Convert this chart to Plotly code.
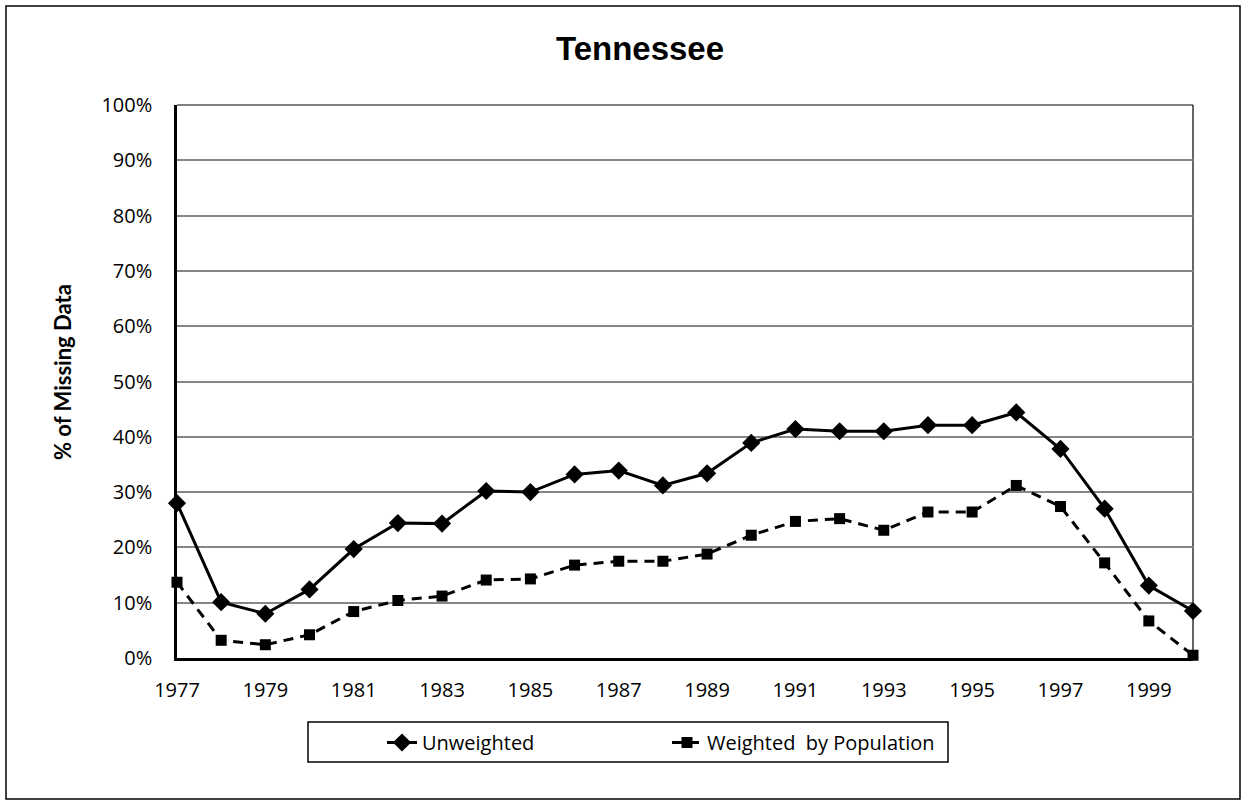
import plotly.graph_objects as go

years = list(range(1977, 2001))
unweighted = [28.0, 10.1, 8.0, 12.4, 19.7, 24.4, 24.3, 30.2, 30.0, 33.2, 33.9, 31.2,
              33.4, 38.9, 41.4, 41.0, 41.0, 42.1, 42.1, 44.4, 37.8, 27.0, 13.1, 8.5]
weighted = [13.7, 3.2, 2.4, 4.2, 8.4, 10.4, 11.2, 14.1, 14.3, 16.8, 17.5, 17.5,
            18.8, 22.2, 24.7, 25.2, 23.1, 26.4, 26.4, 31.2, 27.4, 17.2, 6.7, 0.5]
y_ticks = list(range(0, 101, 10))
y_tick_labels = [f"{v}%" for v in y_ticks]
x_ticks = list(range(1977, 2000, 2))

tick_font = dict(family="Open Sans, Lato, sans-serif", size=20, color="#000000")

fig = go.Figure()
fig.add_trace(go.Scatter(
    x=years, y=unweighted, name="Unweighted", mode="lines+markers",
    line=dict(color="#000000", width=3),
    marker=dict(symbol="diamond", size=14, color="#000000"),
    cliponaxis=False,
))
fig.add_trace(go.Scatter(
    x=years, y=weighted, name="Weighted  by Population", mode="lines+markers",
    line=dict(color="#000000", width=3, dash="10px,7px"),
    marker=dict(symbol="square", size=11, color="#000000"),
    cliponaxis=False,
))

L, R, T, B = 177, 54, 105, 146
W, H = 1247, 804
pw, ph = W - L - R, H - T - B

def px(xp):
    return (xp - L) / pw

def py(yp):
    return (H - B - yp) / ph

fig.update_layout(
    width=W, height=H,
    margin=dict(l=L, r=R, t=T, b=B),
    paper_bgcolor="#ffffff", plot_bgcolor="#ffffff",
    showlegend=True,
    legend=dict(
        orientation="h", x=px(382), xanchor="left", y=py(723), yanchor="top",
        borderwidth=0, bgcolor="rgba(0,0,0,0)",
        font=dict(family="Open Sans, Lato, sans-serif", size=20, color="#000000"),
        entrywidth=240, entrywidthmode="pixels", tracegroupgap=0,
    ),
    title=dict(
        text="<b>Tennessee</b>", x=640 / W, xanchor="center", xref="container",
        y=1 - 48 / H, yanchor="middle", yref="container",
        font=dict(family="Liberation Sans, Arial, sans-serif", size=33, color="#000000"),
    ),
    xaxis=dict(
        range=[1977, 2000], tickvals=x_ticks, ticktext=[str(v) for v in x_ticks],
        showgrid=False, zeroline=False,
        showline=True, linecolor="#000000", linewidth=2.5, mirror=False,
        ticks="", tickfont=tick_font, ticklabelstandoff=12,
    ),
    yaxis=dict(
        range=[0, 100], tickvals=y_ticks, ticktext=y_tick_labels,
        showgrid=True, gridcolor="#868686", gridwidth=1.5, zeroline=False,
        showline=True, linecolor="#000000", linewidth=2.5,
        ticks="", tickfont=tick_font, ticklabelstandoff=18,
    ),
    annotations=[dict(
        text="<b>% of Missing Data</b>", textangle=-90,
        x=px(62), y=py(372), xref="paper", yref="paper",
        xanchor="center", yanchor="middle", showarrow=False,
        font=dict(family="Lato, Open Sans, sans-serif", size=22, color="#000000"),
    )],
    shapes=[
        # plot area frame (top and right edges)
        dict(type="line", xref="paper", yref="paper", x0=0, x1=1, y0=1, y1=1,
             line=dict(color="#000000", width=1.2), layer="below"),
        dict(type="line", xref="paper", yref="paper", x0=1, x1=1, y0=0, y1=1,
             line=dict(color="#000000", width=1.2), layer="below"),
        # legend frame
        dict(type="rect", xref="paper", yref="paper",
             x0=px(308), x1=px(948), y0=py(762), y1=py(722),
             line=dict(color="#000000", width=1.5), fillcolor="rgba(0,0,0,0)"),
        # chart border
        dict(type="rect", xref="paper", yref="paper",
             x0=px(6), x1=px(1240), y0=py(799), y1=py(6),
             line=dict(color="#000000", width=1.5), fillcolor="rgba(0,0,0,0)"),
    ],
)

fig.write_html("out.html")
